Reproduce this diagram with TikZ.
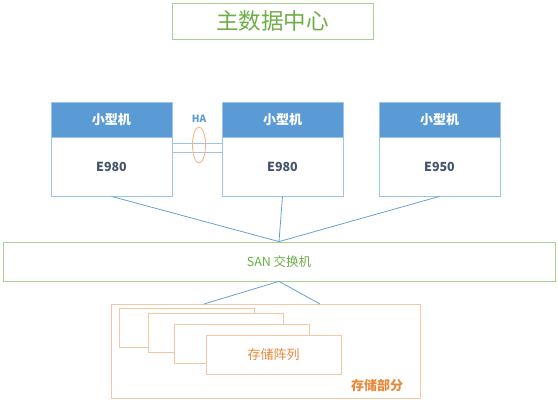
\documentclass[tikz,border=0pt]{standalone}
\usepackage{fontspec}
\usetikzlibrary{shapes.geometric}
\setmainfont{Noto Sans CJK SC}
\definecolor{grnline}{HTML}{A9D18E}
\definecolor{grntext}{HTML}{70AD47}
\definecolor{bluehead}{HTML}{5B9BD5}
\definecolor{blueline}{HTML}{9DC3E6}
\definecolor{bluewire}{HTML}{6A9FD4}
\definecolor{darktext}{HTML}{44546A}
\definecolor{orgline}{HTML}{F4C7A4}
\definecolor{orgtext}{HTML}{E8893A}
\definecolor{orgring}{HTML}{F4B183}
\begin{document}
\begin{tikzpicture}[x=1pt,y=-1pt,
  titlebox/.style={draw=grnline,line width=0.8pt,fill=white,minimum width=201pt,minimum height=36pt,inner sep=0pt,text=grntext,font=\fontsize{22.5}{24}\selectfont},
  headbox/.style={draw=blueline,line width=0.8pt,fill=bluehead,minimum width=121pt,minimum height=35pt,inner sep=0pt,text=white,font=\bfseries\fontsize{13}{15}\selectfont},
  bodybox/.style={draw=blueline,line width=0.8pt,fill=white,minimum width=121pt,minimum height=59pt,inner sep=0pt,text=darktext,font=\bfseries\fontsize{12.5}{14}\selectfont},
  sanbox/.style={draw=grnline,line width=0.8pt,fill=white,minimum width=552pt,minimum height=39pt,inner sep=0pt,text=grntext,font=\fontsize{12.5}{14}\selectfont},
  outerbox/.style={draw=orgline,line width=0.8pt,fill=white,minimum width=309pt,minimum height=94pt,inner sep=0pt},
  arraybox/.style={draw=orgline,line width=0.8pt,fill=white,minimum width=135pt,minimum height=39pt,inner sep=0pt,text=orgtext,font=\fontsize{13}{15}\selectfont},
  wire/.style={draw=bluewire,line width=0.8pt},
  halink/.style={draw=blueline,line width=0.9pt},
  ring/.style={draw=orgring,line width=0.8pt,ellipse,minimum width=13pt,minimum height=36pt,inner sep=0pt}
]
\useasboundingbox (0,0) rectangle (558,406);
\fill[white] (0,0) rectangle (558,406);

% title
\node[titlebox] (title) at (272.5,21) {主数据中心};

% servers
\node[headbox] (h1) at (111.5,119.5) {小型机};
\node[bodybox] (b1) at (111.5,166.5) {E980};
\node[headbox] (h2) at (282.5,119.5) {小型机};
\node[bodybox] (b2) at (282.5,166.5) {E980};
\node[headbox] (h3) at (439.5,119.5) {小型机};
\node[bodybox] (b3) at (439.5,166.5) {E950};

% HA links
\coordinate (ha1a) at (172,143); \coordinate (ha1b) at (222,143);
\coordinate (ha2a) at (172,152); \coordinate (ha2b) at (222,152);
\draw[halink] (ha1a) -- (ha1b);
\draw[halink] (ha2a) -- (ha2b);
\node[ring] (ring) at (199,145) {};
\node[text=bluehead,font=\bfseries\fontsize{10}{12}\selectfont] (ha) at (199,119) {HA};

% SAN switch
\node[sanbox] (san) at (279,261.5) {SAN 交换机};
\draw[wire] (b1.south) -- (san.north);
\draw[wire] (b2.south) -- (san.north);
\draw[wire] (b3.south) -- (san.north);

% storage
\node[outerbox] (store) at (265.5,351) {};
\coordinate (stL) at (204,304);
\coordinate (stR) at (320,304);
\draw[wire] (san.south) -- (stL);
\draw[wire] (san.south) -- (stR);

\node[arraybox] (a1) at (186.5,327.5) {};
\node[arraybox] (a2) at (215.5,332.5) {};
\node[arraybox] (a3) at (241.5,343.5) {};
\node[arraybox] (a4) at (273.5,355) {存储阵列};

\node[text=orgtext,font=\bfseries\fontsize{13}{15}\selectfont] (storelabel) at (377,386) {存储部分};
\end{tikzpicture}
\end{document}
